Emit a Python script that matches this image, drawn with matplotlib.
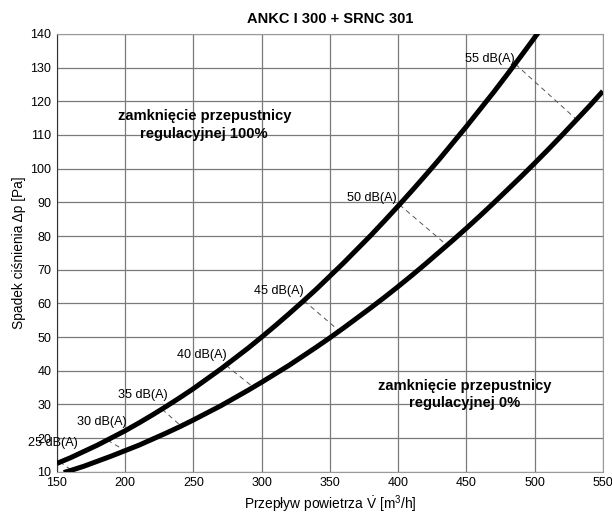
import matplotlib
matplotlib.use('Agg')
import matplotlib.pyplot as plt

plt.rcParams['font.family'] = ['Liberation Sans', 'DejaVu Sans']
plt.rcParams['mathtext.fontset'] = 'custom'
plt.rcParams['mathtext.rm'] = 'Liberation Sans'

# Krzywa dla przepustnicy zamkniętej w 100%
flow_100 = list(range(150, 511, 10))
dp_100 = [12.5, 14.2, 16.1, 18.0, 20.1, 22.2, 24.5, 26.9, 29.4, 32.0,
          34.7, 37.6, 40.5, 43.6, 46.7, 50.0, 53.4, 56.9, 60.5, 64.2,
          68.1, 72.0, 76.1, 80.2, 84.5, 88.9, 93.4, 98.0, 102.7, 107.6,
          112.5, 117.6, 122.7, 128.0, 133.4, 138.9, 144.5]

# Krzywa dla przepustnicy zamkniętej w 0%
flow_0 = [155] + list(range(160, 551, 10))
dp_0 = [9.8, 10.4, 11.7, 13.2, 14.7, 16.3, 17.9, 19.7, 21.5, 23.4,
        25.4, 27.5, 29.6, 31.9, 34.2, 36.6, 39.1, 41.6, 44.3, 47.0,
        49.8, 52.7, 55.7, 58.7, 61.8, 65.0, 68.3, 71.7, 75.2, 78.7,
        82.3, 86.0, 89.8, 93.7, 97.6, 101.6, 105.7, 109.9, 114.2, 118.5,
        123.0]

# Linie poziomu hałasu: punkt na górnej krzywej -> punkt na dolnej
noise_labels = ['25 dB(A)', '30 dB(A)', '35 dB(A)', '40 dB(A)', '45 dB(A)', '50 dB(A)', '55 dB(A)']
noise_x1 = [152, 187, 227, 274, 331, 401, 486]
noise_y1 = [13.0, 19.4, 28.6, 41.6, 60.8, 89.3, 131.0]
noise_x2 = [160, 200, 241, 294, 357, 436, 531]
noise_y2 = [10.7, 16.3, 23.6, 35.1, 51.8, 77.2, 114.5]
label_x = [165.4, 201.2, 231.3, 274.5, 330.8, 398.9, 485.3]
label_y = [18.6, 24.8, 32.8, 44.7, 63.7, 91.3, 132.6]

fig = plt.figure(figsize=(6.12, 5.14), dpi=100)
ax = fig.add_axes([0.093, 0.082, 0.892, 0.852])

ax.plot(flow_100, dp_100, color='black', lw=3.6, solid_capstyle='butt', zorder=3)
ax.plot(flow_0, dp_0, color='black', lw=3.6, solid_capstyle='butt', zorder=3)

for i in range(len(noise_labels)):
    ax.plot([noise_x1[i], noise_x2[i]], [noise_y1[i], noise_y2[i]],
            color='#555555', lw=0.7, ls=(0, (5, 4)), zorder=2)
    ax.text(label_x[i], label_y[i], noise_labels[i], ha='right', va='center',
            fontsize=9.1, zorder=4)

ax.text(258, 113, 'zamknięcie przepustnicy\nregulacyjnej 100%', ha='center', va='center',
        fontsize=10.6, fontweight='bold', linespacing=1.3, zorder=4)
ax.text(449, 33, 'zamknięcie przepustnicy\nregulacyjnej 0%', ha='center', va='center',
        fontsize=10.6, fontweight='bold', linespacing=1.3, zorder=4)

ax.set_xlim(150, 550)
ax.set_ylim(10, 140)
ax.set_xticks(range(150, 551, 50))
ax.set_yticks(range(10, 141, 10))
ax.tick_params(length=0, labelsize=9, pad=4)
ax.grid(True, color='#7a7a7a', lw=0.9)
ax.set_axisbelow(True)
for side in ['top', 'right', 'bottom']:
    ax.spines[side].set_color('#9a9a9a')
ax.spines['left'].set_color('#333333')

ax.set_title('ANKC I 300 + SRNC 301', fontsize=10.5, fontweight='bold', pad=8)
ax.set_xlabel(r'Przepływ powietrza $\dot{\mathrm{V}}$ [m$^3$/h]', fontsize=9.9, labelpad=3)
ax.set_ylabel('Spadek ciśnienia \u0394p [Pa]', fontsize=9.9, labelpad=3)

fig.savefig('out.png', dpi=100)
